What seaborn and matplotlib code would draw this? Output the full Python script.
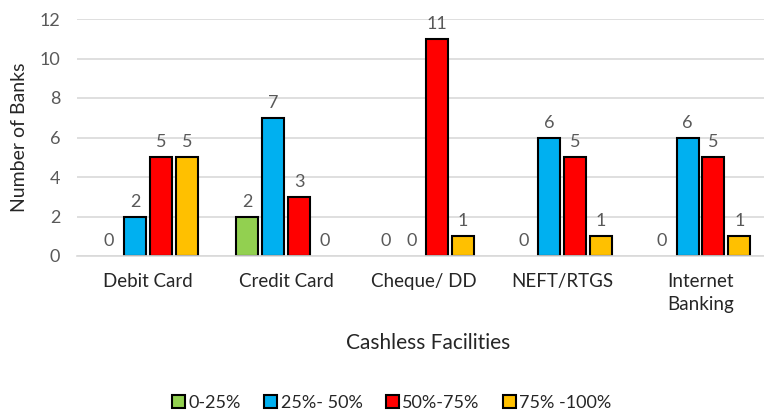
import matplotlib
matplotlib.use("Agg")
import matplotlib.pyplot as plt
import seaborn as sns
import pandas as pd

categories = ["Debit Card", "Credit Card", "Cheque/ DD", "NEFT/RTGS", "Internet\nBanking"]
series_names = ["0-25%", "25%- 50%", "50%-75%", "75% -100%"]
s_0_25 = [0, 2, 0, 0, 0]
s_25_50 = [2, 7, 0, 6, 6]
s_50_75 = [5, 3, 11, 5, 5]
s_75_100 = [5, 0, 1, 1, 1]
y_ticks = [0, 2, 4, 6, 8, 10, 12]
colors = ["#92D050", "#00B0F0", "#FF0000", "#FFC000"]

rows = []
for name, vals in zip(series_names, [s_0_25, s_25_50, s_50_75, s_75_100]):
    for c, v in zip(categories, vals):
        rows.append({"Facility": c, "Range": name, "Banks": v})
df = pd.DataFrame(rows)

sns.set_theme(style="white")
plt.rcParams["font.family"] = ["Lato", "DejaVu Sans"]

fig = plt.figure(figsize=(7.64, 4.13), dpi=100)
ax = fig.add_axes([77/764, (413-256)/413, 687/764, 237/413])

sns.barplot(data=df, x="Facility", y="Banks", hue="Range", order=categories,
            hue_order=series_names, palette=colors, width=0.75, gap=0.15,
            edgecolor="black", linewidth=1.5, saturation=1, ax=ax, legend=True)

for cont in ax.containers:
    for p in cont:
        if p.get_height() == 0:
            p.set_linewidth(0)
    ax.bar_label(cont, labels=[f"{int(p.get_height())}" for p in cont],
                 padding=5, color="#595959", fontsize=13)

ax.set_ylim(0, 12)
ax.set_xlim(-0.514, 4.46)
ax.set_yticks(y_ticks)
ax.yaxis.grid(True, color="#D9D9D9", linewidth=1.2)
ax.set_axisbelow(True)
for s in ["top", "right", "left"]:
    ax.spines[s].set_visible(False)
ax.spines["bottom"].set_color("#D9D9D9")
ax.spines["bottom"].set_linewidth(1.2)
ax.tick_params(axis="y", colors="#595959", labelsize=13, length=0, pad=12)
ax.tick_params(axis="x", colors="#262626", labelsize=13.5, length=0, pad=12)
for t in ax.get_yticklabels():
    t.set_color("#595959")
for t in ax.get_xticklabels():
    t.set_color("#262626")
    t.set_linespacing(1.45)
    t.set_verticalalignment("top")

ax.set_ylabel("Number of Banks", fontsize=14, color="#262626", labelpad=8)
ax.set_xlabel("Cashless Facilities", fontsize=15, color="#262626")
ax.xaxis.set_label_coords((428 - 77) / 687, -(343 - 256) / 237)
ax.xaxis.label.set_verticalalignment("center")

handles, labels = ax.get_legend_handles_labels()
ax.legend(handles, labels, loc="center", bbox_to_anchor=(392/764, 1 - 403/413),
          bbox_transform=fig.transFigure, ncol=4, frameon=False, fontsize=13,
          handlelength=0.7, handleheight=0.7, handletextpad=0.2, columnspacing=1.3,
          labelcolor="#262626", borderpad=0.1)

fig.savefig("out.png", dpi=100)
